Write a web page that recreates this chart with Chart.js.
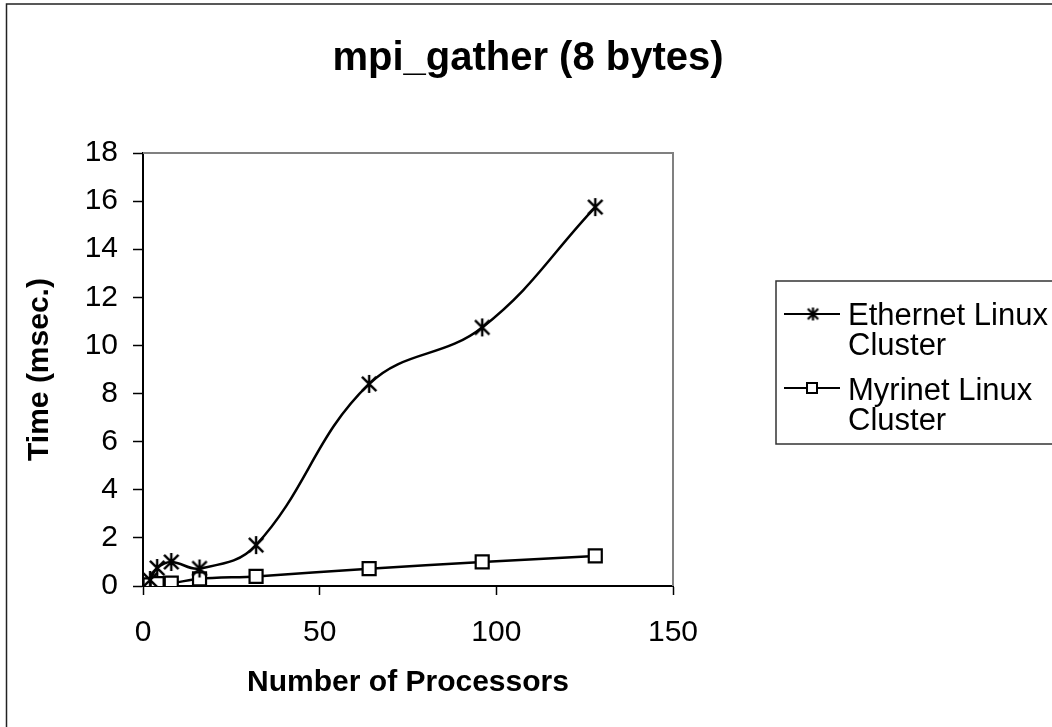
<!DOCTYPE html>
<html>
<head>
<meta charset="utf-8">
<title>mpi_gather (8 bytes)</title>
<script src="https://cdn.jsdelivr.net/npm/chart.js@4.4.1/dist/chart.umd.min.js"></script>
<style>
  html, body { margin: 0; padding: 0; background: #fff; }
  canvas { display: block; }
</style>
</head>
<body>
<canvas id="chart" width="1052" height="727"></canvas>
<script>
// values
const processors = [2, 4, 8, 16, 32, 64, 96, 128];
const ethernetTimes = [0.25, 0.75, 1.0, 0.73, 1.7, 8.4, 10.75, 15.75];
const myrinetTimes = [0.05, 0.1, 0.12, 0.3, 0.4, 0.72, 1.0, 1.25];
const seriesNames = [['Ethernet Linux', 'Cluster'], ['Myrinet Linux', 'Cluster']];
const xTicks = [0, 50, 100, 150];
const yTicks = [0, 2, 4, 6, 8, 10, 12, 14, 16, 18];
const chartTitle = 'mpi_gather (8 bytes)';
const xTitle = 'Number of Processors';
const yTitle = 'Time (msec.)';

const FONT = '"Liberation Sans", Arial, sans-serif';
Chart.defaults.font.family = FONT;
Chart.defaults.color = '#000';

// excel style star: an X with a vertical bar through it
function starMarker(size, lw) {
    const c = document.createElement('canvas');
    c.width = c.height = size;
    const g = c.getContext('2d');
    const h = size / 2;
    const r = h - 1;
    const d = r * 0.8;
    g.strokeStyle = '#000';
    g.lineWidth = lw;
    g.beginPath();
    g.moveTo(h - d, h - d); g.lineTo(h + d, h + d);
    g.moveTo(h + d, h - d); g.lineTo(h - d, h + d);
    g.moveTo(h, h - r); g.lineTo(h, h + r);
    g.stroke();
    return c;
}

const plotStar = starMarker(20, 2.4);
const legendStar = starMarker(15, 2.2);

function toPoints(ys) {
    return processors.map((x, i) => ({ x: x, y: ys[i] }));
}

// page background, outer chart border, gray frame top/right
const frame = {
    id: 'frame',
    beforeDraw(chart) {
        const ctx = chart.ctx;
        ctx.save();
        ctx.fillStyle = '#fff';
        ctx.fillRect(0, 0, chart.width, chart.height);
        ctx.strokeStyle = '#222';
        ctx.lineWidth = 1.5;
        ctx.beginPath();
        ctx.moveTo(6.5, chart.height);
        ctx.lineTo(6.5, 4);
        ctx.lineTo(chart.width, 4);
        ctx.stroke();
        ctx.restore();
    },
    beforeDatasetsDraw(chart) {
        const a = chart.chartArea;
        const ctx = chart.ctx;
        ctx.save();
        ctx.strokeStyle = '#808080';
        ctx.lineWidth = 2;
        ctx.beginPath();
        ctx.moveTo(a.left, a.top);
        ctx.lineTo(a.right, a.top);
        ctx.lineTo(a.right, a.bottom);
        ctx.stroke();
        ctx.restore();
    }
};

const titleText = {
    id: 'titleText',
    afterDraw(chart) {
        const ctx = chart.ctx;
        ctx.save();
        ctx.fillStyle = '#000';
        ctx.font = 'bold 40px ' + FONT;
        ctx.textAlign = 'center';
        ctx.textBaseline = 'alphabetic';
        ctx.fillText(chartTitle, 528, 70);
        ctx.restore();
    }
};

// legend with wrapped labels, box runs off the right edge like the original
const sideLegend = {
    id: 'sideLegend',
    afterDraw(chart) {
        const ctx = chart.ctx;
        const entries = [
            { lineY: 314, lines: [325, 355], marker: 'star' },
            { lineY: 388, lines: [400, 430], marker: 'rect' }
        ];
        ctx.save();
        ctx.strokeStyle = '#333';
        ctx.lineWidth = 1.5;
        ctx.strokeRect(776, 281, 320, 163);

        ctx.font = '31px ' + FONT;
        ctx.fillStyle = '#000';
        ctx.textAlign = 'left';
        ctx.textBaseline = 'alphabetic';
        entries.forEach((e, i) => {
            ctx.strokeStyle = '#000';
            ctx.lineWidth = 2;
            ctx.beginPath();
            ctx.moveTo(784, e.lineY);
            ctx.lineTo(840, e.lineY);
            ctx.stroke();
            if (e.marker === 'star') {
                ctx.drawImage(legendStar, 813 - legendStar.width / 2, e.lineY - legendStar.height / 2);
            } else {
                ctx.fillStyle = '#fff';
                ctx.fillRect(807, e.lineY - 5, 10, 10);
                ctx.strokeRect(807, e.lineY - 5, 10, 10);
                ctx.fillStyle = '#000';
            }
            seriesNames[i].forEach((txt, j) => {
                ctx.fillText(txt, 848, e.lines[j]);
            });
        });
        ctx.restore();
    }
};

new Chart(document.getElementById('chart'), {
    type: 'line',
    data: {
        datasets: [
            {
                label: seriesNames[0].join(' '),
                data: toPoints(ethernetTimes),
                borderColor: '#000',
                borderWidth: 2.5,
                tension: 0.4,
                fill: false,
                pointStyle: plotStar,
                pointRadius: 9
            },
            {
                label: seriesNames[1].join(' '),
                data: toPoints(myrinetTimes),
                borderColor: '#000',
                borderWidth: 2.5,
                tension: 0.3,
                fill: false,
                pointStyle: 'rect',
                pointRadius: 9.2,
                pointBorderWidth: 2.2,
                pointBorderColor: '#000',
                pointBackgroundColor: '#fff'
            }
        ]
    },
    options: {
        responsive: false,
        animation: false,
        events: [],
        layout: { padding: { left: 18, top: 153, right: 379, bottom: 22 } },
        plugins: {
            legend: { display: false },
            tooltip: { enabled: false },
            title: { display: false }
        },
        scales: {
            x: {
                type: 'linear',
                min: 0,
                max: 150,
                afterBuildTicks(s) { s.ticks = xTicks.map(v => ({ value: v })); },
                afterFit(s) { s.height = 119; },
                grid: { drawOnChartArea: false, tickLength: 9, tickColor: '#000', tickWidth: 1.5 },
                border: { color: '#000', width: 2 },
                ticks: { color: '#000', font: { size: 30 }, padding: 20, maxRotation: 0 },
                title: { display: true, text: xTitle, color: '#000', font: { size: 30, weight: 'bold' }, padding: { top: 4, bottom: 4 } }
            },
            y: {
                type: 'linear',
                min: 0,
                max: 18,
                afterBuildTicks(s) { s.ticks = yTicks.map(v => ({ value: v })); },
                afterFit(s) { s.width = 125; },
                grid: { drawOnChartArea: false, tickLength: 10, tickColor: '#000', tickWidth: 1.5 },
                border: { color: '#000', width: 2 },
                ticks: { color: '#000', font: { size: 30 }, padding: 15 },
                title: { display: true, text: yTitle, color: '#000', font: { size: 30, weight: 'bold' }, padding: { top: 4, bottom: 4 } }
            }
        }
    },
    plugins: [frame, titleText, sideLegend]
});
</script>
</body>
</html>
